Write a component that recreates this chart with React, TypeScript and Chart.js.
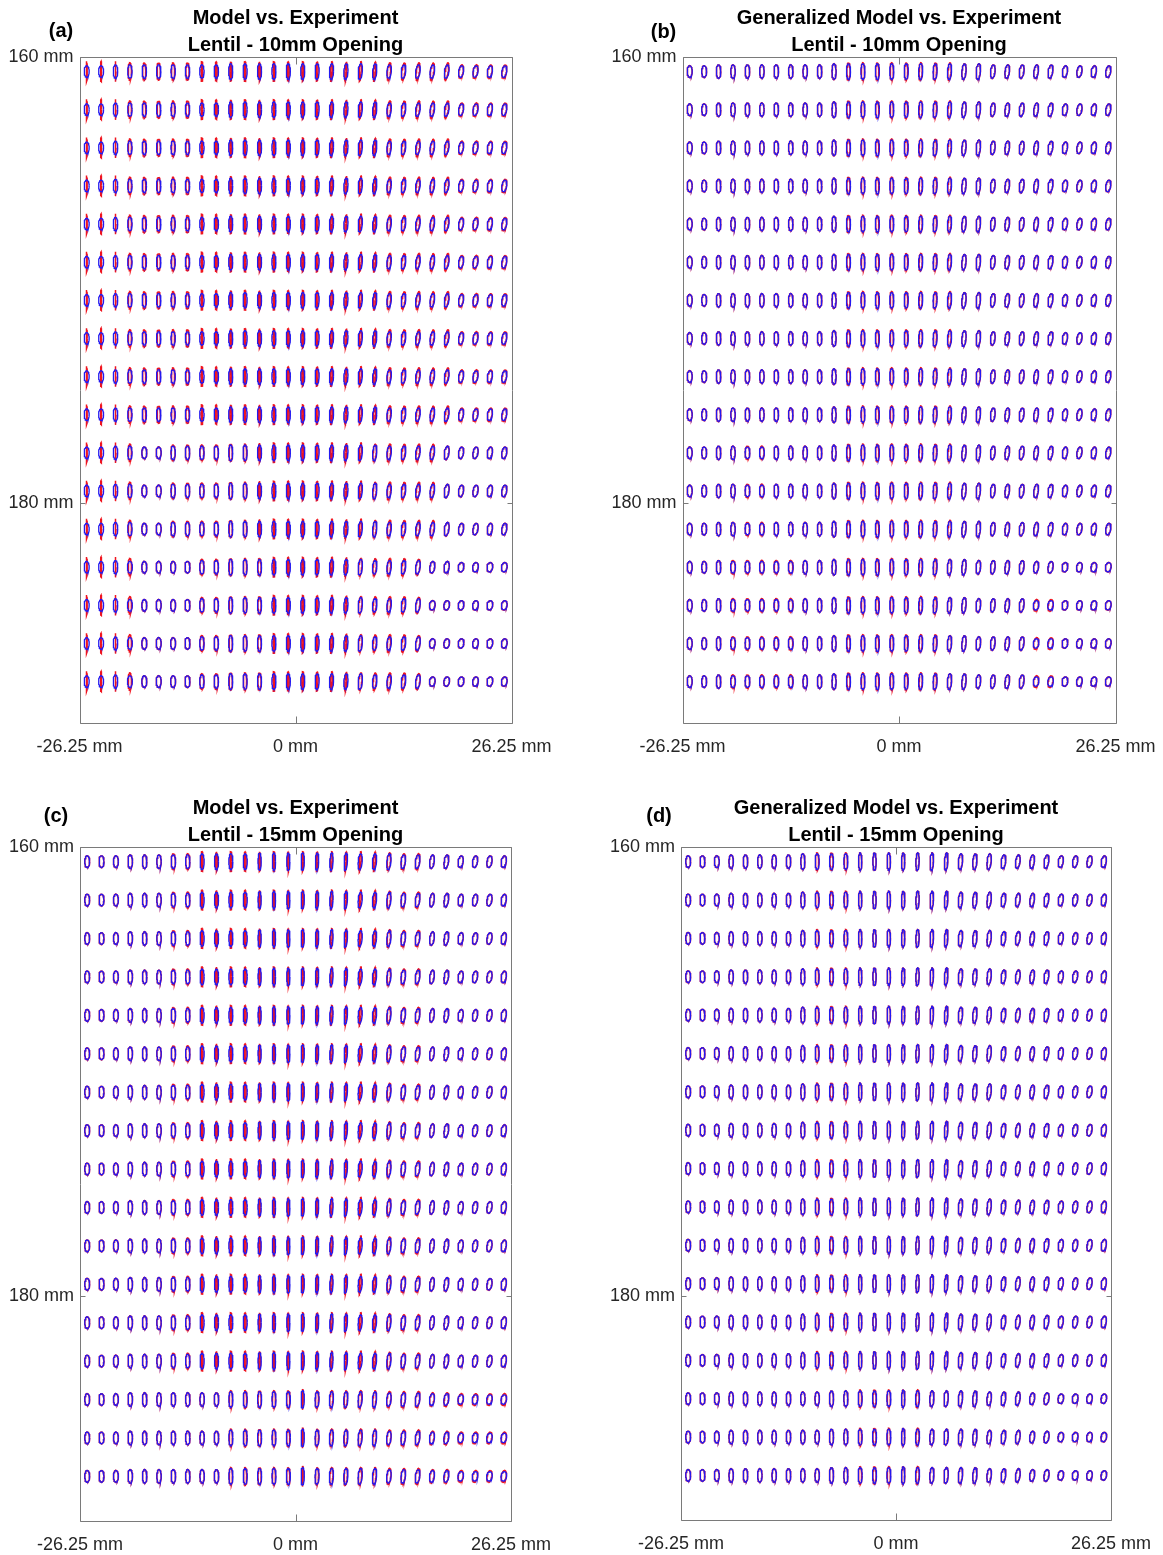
import React, { useEffect, useRef } from "react";
import { Chart, registerables } from "chart.js";

Chart.register(...registerables);

const FONT = '"Liberation Sans", Arial, Helvetica, sans-serif';

// Sampling grid (mm)
const COL_X = [
  -25.375, -23.625, -21.875, -20.125, -18.375, -16.625, -14.875, -13.125, -11.375, -9.625,
  -7.875, -6.125, -4.375, -2.625, -0.875, 0.875, 2.625, 4.375, 6.125, 7.875,
  9.625, 11.375, 13.125, 14.875, 16.625, 18.375, 20.125, 21.875, 23.625, 25.375,
];
const ROW_Y = [
  160.65, 162.36, 164.07, 165.78, 167.49, 169.2, 170.91, 172.62, 174.33,
  176.04, 177.75, 179.46, 181.17, 182.88, 184.59, 186.3, 188.01,
];

const X_TICKS = [-26.25, 0, 26.25];
const Y_TICKS = [160, 180];

// Ellipse classes: [semi-axis along x, semi-axis along y], in mm
const SHAPES: Record<string, [number, number]> = {
  "1": [0.06, 0.46],
  "2": [0.11, 0.44],
  "3": [0.2, 0.39],
  "4": [0.25, 0.35],
  "5": [0.27, 0.3],
  "6": [0.3, 0.26],
  "7": [0.34, 0.21],
};

// Orientation of each column's ellipses (degrees, clockwise)
const TILT = [0, 0, 0, 0, 0, 0, 0, 0, 0, 0, 0, 0, 0, 0, 0, 1, 2, 3, 4, 5, 5, 6, 7, 8, 8, 9, 9, 10, 10, 10];

// One string per row, one shape class per column
const EXP_10MM = [
  "665555555544444444444555556666",
  "665555555544444444444555556666",
  "665555555544444444444555556666",
  "665555555544444444444555556666",
  "665555555544444444444555556666",
  "665555555544444444444555556666",
  "665555555544444444444555556666",
  "665555555544444444444555556666",
  "665555555544444444444555556666",
  "665555555544444444444555556666",
  "665566555544444444444555556666",
  "665566555544444444444555556666",
  "665566555544444444444555556666",
  "665666665544444444445555667777",
  "665666665544444444445555777777",
  "665666665544444444445555777777",
  "665666665544444444445555777777",
];
const MODEL_10MM = [
  "111333332222222222222333335555",
  "111333332222222222222333335555",
  "111333332222222222222333335555",
  "111333332222222222222333335555",
  "111333332222222222222333335555",
  "111333332222222222222333335555",
  "111333332222222222222333335555",
  "111333332222222222222333335555",
  "111333332222222222222333335555",
  "111333332222222222222333335555",
  "111366444433222222223333356666",
  "111366444433222222223333356666",
  "111366444433222222223333356666",
  "111366664433322222233334667777",
  "111366664433322222233334777777",
  "111366664433322222233334777777",
  "111366664433322222233334777777",
];
const GEN_MODEL_10MM = [
  "665555555543333333344555556666",
  "665555555543333333344555556666",
  "665555555543333333344555556666",
  "665555555543333333344555556666",
  "665555555543333333344555556666",
  "665555555543333333344555556666",
  "665555555543333333344555556666",
  "665555555543333333344555556666",
  "665555555543333333344555556666",
  "665555555543333333344555556666",
  "665555555543333333344555556666",
  "665555555543333333344555556666",
  "665555555543333333344555556666",
  "665555555543333333445555667777",
  "665555555543333333445555667777",
  "665555555543333333445555667777",
  "665555555543333333445555667777",
];
const EXP_15MM = [
  "666555554444333333344455556666",
  "666555554444333333344455556666",
  "666555554444333333344455556666",
  "666555554444333333344455556666",
  "666555554444333333344455556666",
  "666555554444333333344455556666",
  "666555554444333333344455556666",
  "666555554444333333344455556666",
  "666555554444333333344455556666",
  "666555554444333333344455556666",
  "666555554444333333344455556666",
  "666555554444333333344455556666",
  "666555554444333333344455556666",
  "666555554444333333344455556666",
  "666555555544444344444555667777",
  "666555555544444344444555667777",
  "666555555544444344444555667777",
];
const MODEL_15MM = [
  "666555442222222222222344556666",
  "666555442222222222222344556666",
  "666555442222222222222344556666",
  "666555442222222222222344556666",
  "666555442222222222222344556666",
  "666555442222222222222344556666",
  "666555442222222222222344556666",
  "666555442222222222222344556666",
  "666555442222222222222344556666",
  "666555442222222222222344556666",
  "666555442222222222222344556666",
  "666555442222222222222344556666",
  "666555442222222222222344556666",
  "666555442222222222222344556666",
  "666555555533333133333444556666",
  "666555555533333133333444556666",
  "666555555533333133333444556666",
];
const GEN_MODEL_15MM = [
  "666555554333333333344455556666",
  "666555554333333333344455556666",
  "666555554333333333344455556666",
  "666555554333333333344455556666",
  "666555554333333333344455556666",
  "666555554333333333344455556666",
  "666555554333333333344455556666",
  "666555554333333333344455556666",
  "666555554333333333344455556666",
  "666555554333333333344455556666",
  "666555554333333333344455556666",
  "666555554333333333344455556666",
  "666555554333333333344455556666",
  "666555554333333333344455556666",
  "666555555544333334444555667777",
  "666555555544333334444555667777",
  "666555555544333334444555667777",
];

const BLUE = "rgb(35,25,240)";
const RED = "rgb(240,20,30)";

// Screen scale (px per mm) used to rotate the ellipses in display space
const PX_X = 8.22;
const PX_Y = 22.3;
const SEG = 36;

type Pt = { x: number; y: number | null };

function ellipseTrace(rows: string[]): Pt[] {
  const pts: Pt[] = [];
  rows.forEach((row, r) => {
    for (let c = 0; c < COL_X.length; c++) {
      const [sx, sy] = SHAPES[row[c]];
      const phi = (TILT[c] * Math.PI) / 180;
      const cp = Math.cos(phi);
      const sp = Math.sin(phi);
      for (let k = 0; k <= SEG; k++) {
        const t = (2 * Math.PI * k) / SEG;
        const u = sx * PX_X * Math.cos(t);
        const v = sy * PX_Y * Math.sin(t);
        const uu = u * cp - v * sp;
        const vv = u * sp + v * cp;
        pts.push({ x: COL_X[c] + uu / PX_X, y: ROW_Y[r] + vv / PX_Y });
      }
      pts.push({ x: COL_X[c], y: null });
    }
  });
  return pts;
}

type PanelSpec = {
  tag: string;
  title: [string, string];
  canvas: { left: number; top: number; width: number; height: number };
  plot: { l: number; r: number; t: number; b: number };
  yMax: number;
  exp: string[];
  model: string[];
  tagX: number;
  tagY: number;
};

const AXIS_H = 30;

const PANELS: PanelSpec[] = [
  {
    tag: "(a)",
    title: ["Model vs. Experiment", "Lentil - 10mm Opening"],
    canvas: { left: 0, top: 0, width: 560, height: 770 },
    plot: { l: 79.5, r: 511.5, t: 57, b: 723 },
    yMax: 189.87,
    exp: EXP_10MM,
    model: MODEL_10MM,
    tagX: 61,
    tagY: 37,
  },
  {
    tag: "(b)",
    title: ["Generalized Model vs. Experiment", "Lentil - 10mm Opening"],
    canvas: { left: 580, top: 0, width: 583, height: 770 },
    plot: { l: 682.5, r: 1115.5, t: 57, b: 723 },
    yMax: 189.87,
    exp: EXP_10MM,
    model: GEN_MODEL_10MM,
    tagX: 663.5,
    tagY: 38,
  },
  {
    tag: "(c)",
    title: ["Model vs. Experiment", "Lentil - 15mm Opening"],
    canvas: { left: 0, top: 775, width: 560, height: 780 },
    plot: { l: 80, r: 511, t: 847, b: 1521 },
    yMax: 190,
    exp: EXP_15MM,
    model: MODEL_15MM,
    tagX: 56,
    tagY: 821.5,
  },
  {
    tag: "(d)",
    title: ["Generalized Model vs. Experiment", "Lentil - 15mm Opening"],
    canvas: { left: 580, top: 775, width: 583, height: 780 },
    plot: { l: 681, r: 1111, t: 847, b: 1520 },
    yMax: 190,
    exp: EXP_15MM,
    model: GEN_MODEL_15MM,
    tagX: 659,
    tagY: 821.5,
  },
];

function EllipsePanel({ spec }: { spec: PanelSpec }) {
  const ref = useRef<HTMLCanvasElement>(null);

  useEffect(() => {
    const canvas = ref.current;
    if (!canvas) return;
    const { canvas: cv, plot } = spec;

    const framePlugin = {
      id: "frame",
      afterDraw(chart: any) {
        const { ctx, chartArea: a, scales } = chart;
        ctx.save();
        ctx.strokeStyle = "#7a7a7a";
        ctx.lineWidth = 1;
        const L = Math.round(a.left) + 0.5;
        const R = Math.round(a.right) + 0.5;
        const T = Math.round(a.top) + 0.5;
        const B = Math.round(a.bottom) + 0.5;
        ctx.beginPath();
        ctx.rect(L, T, R - L, B - T);
        X_TICKS.forEach((v) => {
          const px = Math.round(scales.x.getPixelForValue(v)) + 0.5;
          ctx.moveTo(px, B);
          ctx.lineTo(px, B - 7);
          ctx.moveTo(px, T);
          ctx.lineTo(px, T + 7);
        });
        Y_TICKS.forEach((v) => {
          const py = Math.round(scales.y.getPixelForValue(v)) + 0.5;
          ctx.moveTo(L, py);
          ctx.lineTo(L + 5, py);
          ctx.moveTo(R, py);
          ctx.lineTo(R - 5, py);
        });
        ctx.stroke();

        ctx.fillStyle = "#000";
        ctx.font = `bold 20px ${FONT}`;
        ctx.textAlign = "center";
        ctx.textBaseline = "alphabetic";
        const cx = (a.left + a.right) / 2;
        ctx.fillText(spec.title[0], cx, a.top - 33);
        ctx.fillText(spec.title[1], cx, a.top - 6);
        ctx.fillText(spec.tag, spec.tagX - cv.left, spec.tagY - cv.top);
        ctx.restore();
      },
    };

    const chart = new Chart(canvas, {
      type: "line",
      data: {
        datasets: [
          {
            label: "Experiment",
            data: ellipseTrace(spec.exp) as any,
            borderColor: BLUE,
            borderWidth: 1.3,
            pointRadius: 0,
            fill: false,
            tension: 0,
            spanGaps: false,
          },
          {
            label: "Model",
            data: ellipseTrace(spec.model) as any,
            borderColor: RED,
            borderWidth: 1.5,
            pointRadius: 0,
            fill: false,
            tension: 0,
            spanGaps: false,
          },
        ],
      },
      options: {
        responsive: false,
        animation: false,
        devicePixelRatio: 1,
        events: [],
        layout: {
          padding: {
            left: 0,
            top: plot.t - cv.top,
            right: cv.left + cv.width - plot.r,
            bottom: cv.top + cv.height - plot.b - AXIS_H,
          },
        },
        plugins: {
          legend: { display: false },
          tooltip: { enabled: false },
          title: { display: false },
        },
        scales: {
          x: {
            type: "linear",
            min: -26.25,
            max: 26.25,
            afterBuildTicks: (s: any) => {
              s.ticks = X_TICKS.map((v) => ({ value: v }));
            },
            afterFit: (s: any) => {
              s.height = AXIS_H;
              s.paddingLeft = 0;
              s.paddingRight = 0;
            },
            grid: { display: false, drawTicks: false },
            border: { display: false },
            ticks: {
              autoSkip: false,
              maxRotation: 0,
              padding: 13,
              color: "#262626",
              font: { family: FONT, size: 18 },
              callback: (v: any) => `${v} mm`,
            },
          },
          y: {
            type: "linear",
            reverse: true,
            min: 160,
            max: spec.yMax,
            afterBuildTicks: (s: any) => {
              s.ticks = Y_TICKS.map((v) => ({ value: v }));
            },
            afterFit: (s: any) => {
              s.width = plot.l - cv.left;
              s.paddingTop = 0;
              s.paddingBottom = 0;
            },
            grid: { display: false, drawTicks: false },
            border: { display: false },
            ticks: {
              autoSkip: false,
              padding: 6,
              color: "#262626",
              font: { family: FONT, size: 18 },
              callback: (v: any) => `${v} mm`,
            },
          },
        },
      },
      plugins: [framePlugin],
    } as any);

    return () => chart.destroy();
  }, [spec]);

  const { left, top, width, height } = spec.canvas;
  return (
    <canvas
      ref={ref}
      width={width}
      height={height}
      style={{ position: "absolute", left, top, width, height }}
    />
  );
}

export default function App() {
  return (
    <div
      style={{
        position: "absolute",
        left: 0,
        top: 0,
        width: 1163,
        height: 1555,
        background: "#fff",
      }}
    >
      {PANELS.map((p) => (
        <EllipsePanel key={p.tag} spec={p} />
      ))}
    </div>
  );
}
